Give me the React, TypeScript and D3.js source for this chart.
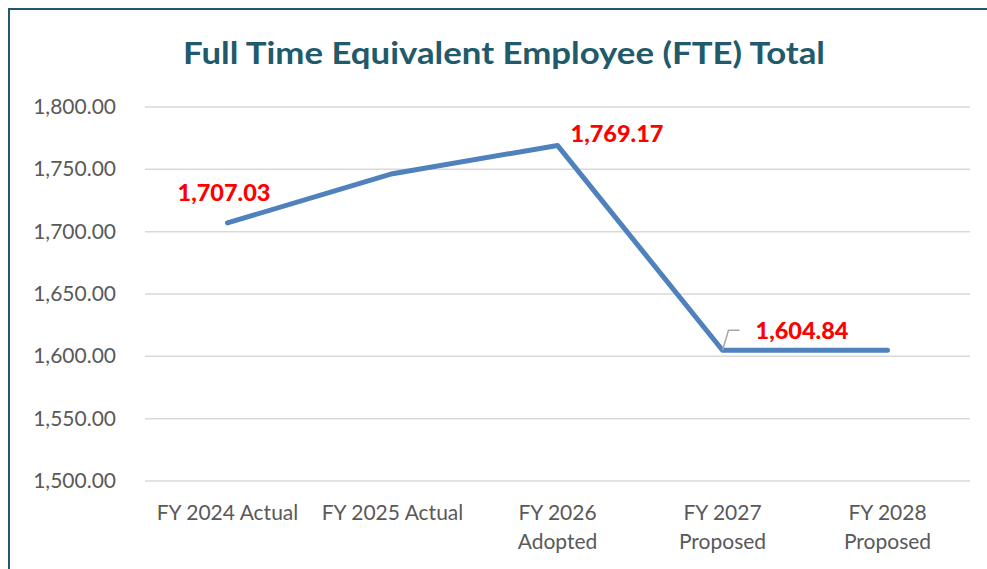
import React from "react";
import * as d3 from "d3";

const categories: string[][] = [
  ["FY 2024 Actual"],
  ["FY 2025 Actual"],
  ["FY 2026", "Adopted"],
  ["FY 2027", "Proposed"],
  ["FY 2028", "Proposed"],
];
const values: number[] = [1707.03, 1746.5, 1769.17, 1604.84, 1604.84];
const yTicks: number[] = [1500, 1550, 1600, 1650, 1700, 1750, 1800];
const labelIdx: number[] = [0, 2, 3];
const title = "Full Time Equivalent Employee (FTE) Total";

const W = 987;
const H = 569;
const FONT = "Lato, 'Open Sans', sans-serif";

export default function App() {
  const x = d3
    .scaleBand<number>()
    .domain(categories.map((_, i) => i))
    .range([145, 970]);
  const y = d3.scaleLinear().domain([1500, 1800]).range([481, 107]);
  const cx = (i: number) => (x(i) as number) + x.bandwidth() / 2;
  const line = d3
    .line<number>()
    .x((_, i) => cx(i))
    .y((d) => y(d));
  const fmt = d3.format(",.2f");

  const labelPos: Record<number, { dx: number; dy: number }> = {
    0: { dx: -50, dy: -22 },
    2: { dx: 13, dy: -3 },
    3: { dx: 33, dy: -11 },
  };

  return (
    <svg
      width={W}
      height={H}
      style={{ position: "absolute", left: 0, top: 0, background: "#fff" }}
    >
      <rect x={0} y={0} width={W} height={H} fill="#fff" />
      <rect
        x={9}
        y={9}
        width={W + 20}
        height={H + 20}
        fill="none"
        stroke="#215a6a"
        strokeWidth={2}
      />
      <text
        x={504}
        y={64}
        textAnchor="middle"
        fontFamily={FONT}
        fontWeight="bold"
        fontSize={31}
        fill="#215a6a"
        textLength={642}
        lengthAdjust="spacingAndGlyphs"
      >
        {title}
      </text>
      {yTicks.map((t) => (
        <g key={t}>
          <line
            x1={145}
            x2={970}
            y1={y(t)}
            y2={y(t)}
            stroke="#d9d9d9"
            strokeWidth={1.5}
          />
          <text
            x={116}
            y={y(t) + 7}
            textAnchor="end"
            fontFamily={FONT}
            fontSize={21}
            fill="#595959"
          >
            {fmt(t)}
          </text>
        </g>
      ))}
      {categories.map((lines, i) => (
        <text
          key={i}
          textAnchor="middle"
          fontFamily={FONT}
          fontSize={21}
          fill="#595959"
        >
          {lines.map((l, j) => (
            <tspan key={j} x={cx(i)} y={520 + j * 29}>
              {l}
            </tspan>
          ))}
        </text>
      ))}
      <path
        d={line(values) || ""}
        fill="none"
        stroke="#4f81bd"
        strokeWidth={5}
        strokeLinecap="round"
        strokeLinejoin="round"
      />
      <polyline
        points={`${cx(3)},${y(values[3])} ${cx(3) + 6},${y(values[3]) - 20} ${cx(3) + 17},${y(values[3]) - 20}`}
        fill="none"
        stroke="#a6a6a6"
        strokeWidth={1.5}
      />
      {labelIdx.map((i) => {
        const p = labelPos[i];
        return (
          <text
            key={i}
            x={cx(i) + p.dx}
            y={y(values[i]) + p.dy}
            fontFamily={FONT}
            fontWeight="900"
            fontSize={23}
            fill="#ff0000"
            textLength={93}
            lengthAdjust="spacingAndGlyphs"
          >
            {fmt(values[i])}
          </text>
        );
      })}
    </svg>
  );
}
